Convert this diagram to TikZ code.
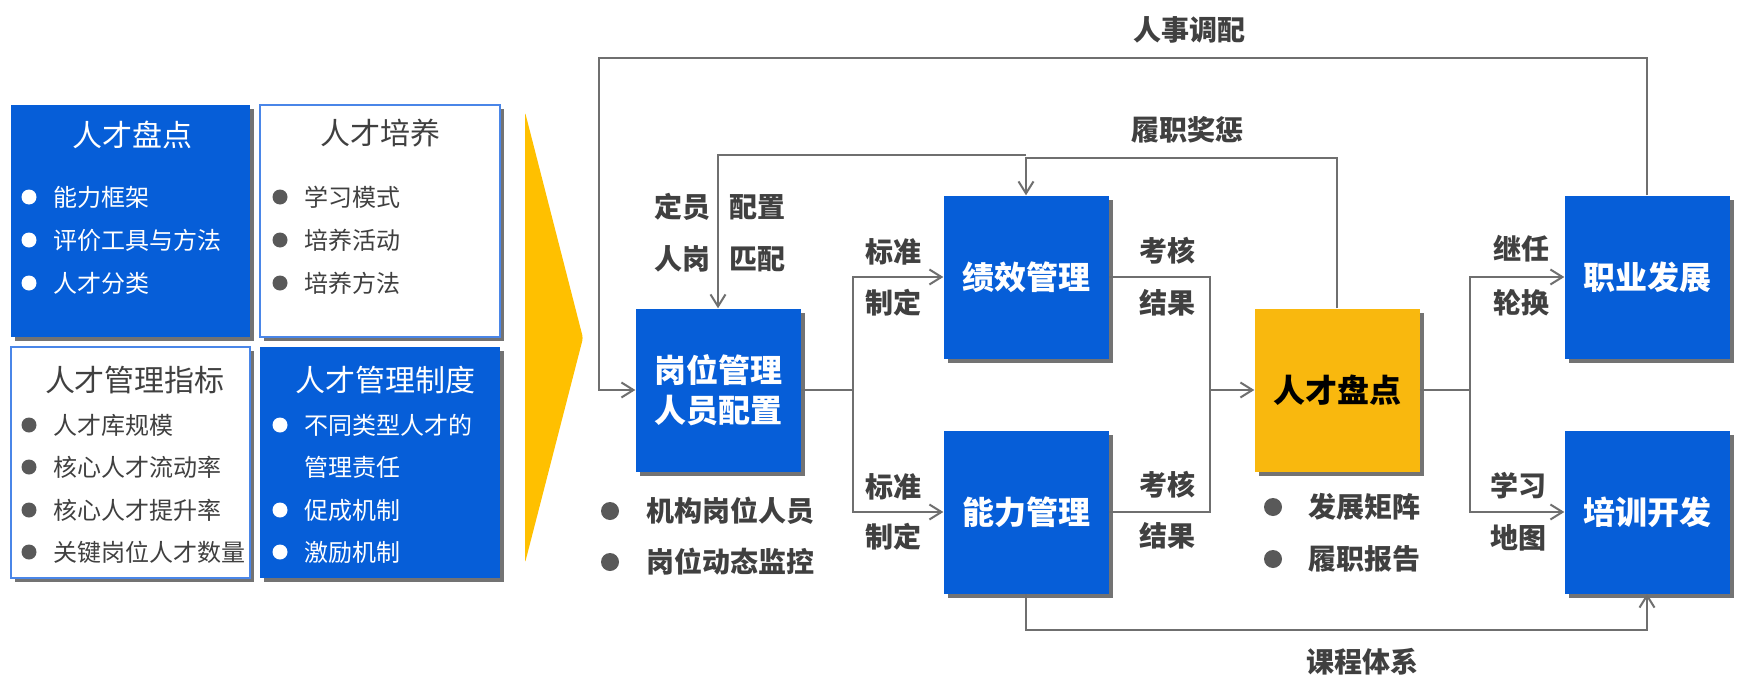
\documentclass[tikz,border=0pt]{standalone}
\usepackage{fontspec}
\setmainfont{Noto Sans CJK SC}
\usetikzlibrary{arrows.meta,shadows}
\definecolor{bx}{HTML}{065ED8}
\definecolor{yb}{HTML}{F9B80E}
\definecolor{tri}{HTML}{FFC000}
\definecolor{ln}{HTML}{6F6F6F}
\definecolor{tx}{HTML}{404040}
\definecolor{bul}{HTML}{595959}
\definecolor{bd}{HTML}{4A86E8}
\begin{document}
\begin{tikzpicture}[x=1pt,y=-1pt,
 shd/.style={drop shadow={shadow xshift=4pt,shadow yshift=-4pt,fill=black,opacity=0.55}},
 mainbox/.style={rectangle,fill=bx,minimum width=165pt,minimum height=163pt,inner sep=0pt,shd,text=white,font=\bfseries\fontsize{32}{40}\selectfont,align=center},
 goldbox/.style={mainbox,fill=yb,text=black},
 panelblue/.style={rectangle,fill=bx,inner sep=0pt,shd},
 panelwhite/.style={rectangle,fill=white,draw=bd,line width=1.5pt,inner sep=0pt,shd},
 ptitle/.style={font=\fontsize{30}{36}\selectfont,inner sep=0pt},
 pitem/.style={font=\fontsize{24}{28}\selectfont,anchor=west,inner sep=0pt},
 lbl/.style={font=\bfseries\fontsize{28}{34}\selectfont,text=tx,inner sep=0pt},
 pdot/.style={circle,inner sep=0pt,minimum size=15pt},
 bdot/.style={circle,fill=bul,inner sep=0pt,minimum size=18pt},
 conn/.style={draw=ln,line width=2pt},
 arr/.style={conn,-{Straight Barb[length=12pt,width=15pt]}},
]
\useasboundingbox (0,0) rectangle (1746,688);
\fill[white] (0,0) rectangle (1746,688);

% ---- left panel ----
\node[panelblue,minimum width=239pt,minimum height=232pt] (b1) at (130.5,221) {};
\node[panelwhite,minimum width=240pt,minimum height=232pt] (b2) at (380,221) {};
\node[panelwhite,minimum width=239pt,minimum height=231pt] (b3) at (130.5,462.5) {};
\node[panelblue,minimum width=240pt,minimum height=231pt] (b4) at (380,462.5) {};

\node[ptitle,text=white] (t1) at (132,135) {人才盘点};
\node[pdot,fill=white] (d11) at (29,197) {};
\node[pitem,text=white] (i11) at (53,197) {能力框架};
\node[pdot,fill=white] (d12) at (29,240) {};
\node[pitem,text=white] (i12) at (53,240) {评价工具与方法};
\node[pdot,fill=white] (d13) at (29,283) {};
\node[pitem,text=white] (i13) at (53,283) {人才分类};

\node[ptitle,text=tx] (t2) at (380,133) {人才培养};
\node[pdot,fill=bul] (d21) at (280,197) {};
\node[pitem,text=tx] (i21) at (304,197) {学习模式};
\node[pdot,fill=bul] (d22) at (280,240) {};
\node[pitem,text=tx] (i22) at (304,240) {培养活动};
\node[pdot,fill=bul] (d23) at (280,283) {};
\node[pitem,text=tx] (i23) at (304,283) {培养方法};

\node[ptitle,text=tx] (t3) at (135,380) {人才管理指标};
\node[pdot,fill=bul] (d31) at (29,425) {};
\node[pitem,text=tx] (i31) at (53,425) {人才库规模};
\node[pdot,fill=bul] (d32) at (29,467) {};
\node[pitem,text=tx] (i32) at (53,467) {核心人才流动率};
\node[pdot,fill=bul] (d33) at (29,510) {};
\node[pitem,text=tx] (i33) at (53,510) {核心人才提升率};
\node[pdot,fill=bul] (d34) at (29,552) {};
\node[pitem,text=tx] (i34) at (53,552) {关键岗位人才数量};

\node[ptitle,text=white] (t4) at (385,380) {人才管理制度};
\node[pdot,fill=white] (d41) at (280,425) {};
\node[pitem,text=white] (i41) at (304,425) {不同类型人才的};
\node[pitem,text=white] (i42) at (304,467) {管理责任};
\node[pdot,fill=white] (d43) at (280,510) {};
\node[pitem,text=white] (i43) at (304,510) {促成机制};
\node[pdot,fill=white] (d44) at (280,552) {};
\node[pitem,text=white] (i44) at (304,552) {激励机制};

% ---- big arrow ----
\fill[tri,rounded corners=3pt] (525,112) -- (583,338) -- (525,563) -- cycle;

% ---- main boxes ----
\node[mainbox] (P) at (718,390) {岗位管理\\人员配置};
\node[mainbox] (J) at (1026,277) {绩效管理};
\node[mainbox] (N) at (1026,512) {能力管理};
\node[goldbox] (T) at (1337,390) {人才盘点};
\node[mainbox] (Z) at (1647,277) {职业发展};
\node[mainbox] (X) at (1647,512) {培训开发};

% ---- junction coordinates ----
\coordinate (tl) at (599,58);
\coordinate (rk) at (1026,158);
\coordinate (rk2) at (1026,155);
\coordinate (jA) at (853,390);
\coordinate (jB) at (1210,390);
\coordinate (jC) at (1470,390);
\coordinate (kc) at (1647,630);

% ---- connectors ----
\draw[arr] (Z.north) |- (tl) |- (P.west);
\draw[arr] (T.north) |- (rk) -- (J.north);
\draw[arr] (rk2) -| (P.north);
\draw[conn] (P.east) -- (jA);
\draw[arr] (jA) |- (J.west);
\draw[arr] (jA) |- (N.west);
\draw[conn] (J.east) -| (jB);
\draw[conn] (N.east) -| (jB);
\draw[arr] (jB) -- (T.west);
\draw[conn] (T.east) -- (jC);
\draw[arr] (jC) |- (Z.west);
\draw[arr] (jC) |- (X.west);
\draw[arr] (N.south) |- (kc) -- (X.south);

% ---- labels ----
\node[lbl] (l1) at (1189,30) {人事调配};
\node[lbl] (l2) at (1187,130) {履职奖惩};
\node[lbl] (l3) at (682,207) {定员};
\node[lbl] (l4) at (757,207) {配置};
\node[lbl] (l5) at (682,259) {人岗};
\node[lbl] (l6) at (757,259) {匹配};
\node[lbl] (l7) at (893,252) {标准};
\node[lbl] (l8) at (893,303) {制定};
\node[lbl] (l9) at (893,487) {标准};
\node[lbl] (l10) at (893,537) {制定};
\node[lbl] (l11) at (1167,251) {考核};
\node[lbl] (l12) at (1167,303) {结果};
\node[lbl] (l13) at (1167,485) {考核};
\node[lbl] (l14) at (1167,536) {结果};
\node[lbl] (l15) at (1521,249) {继任};
\node[lbl] (l16) at (1521,303) {轮换};
\node[lbl] (l17) at (1518,486) {学习};
\node[lbl] (l18) at (1518,538) {地图};
\node[lbl] (l19) at (1362,662) {课程体系};

% ---- bullet lists ----
\node[bdot] (bp1) at (610,511) {};
\node[lbl,anchor=west] (tp1) at (646,511) {机构岗位人员};
\node[bdot] (bp2) at (610,562) {};
\node[lbl,anchor=west] (tp2) at (646,562) {岗位动态监控};
\node[bdot] (bt1) at (1273,507) {};
\node[lbl,anchor=west] (tt1) at (1308,507) {发展矩阵};
\node[bdot] (bt2) at (1273,559) {};
\node[lbl,anchor=west] (tt2) at (1308,559) {履职报告};
\end{tikzpicture}
\end{document}
